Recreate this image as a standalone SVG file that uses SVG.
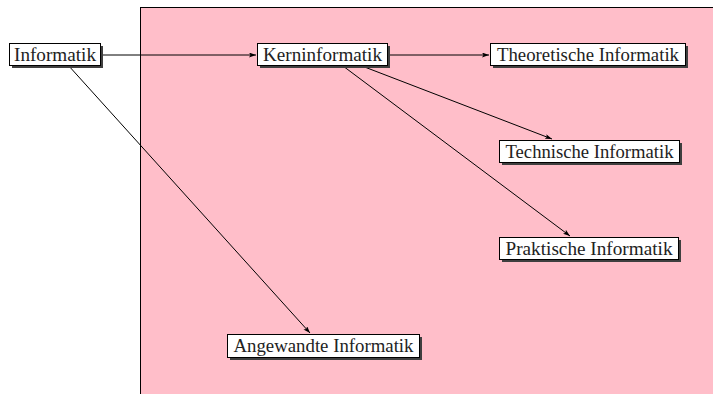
<svg xmlns="http://www.w3.org/2000/svg" width="713" height="394" viewBox="0 0 713 394">
<style>
.shadow{fill:#3f3f3f}
.box{fill:#fff;stroke:#000;stroke-width:1}
.lbl{font-family:"Liberation Serif","DejaVu Serif",serif;font-size:18px;fill:#222;text-anchor:middle}
.edge{stroke:#000;stroke-width:1;fill:none;marker-end:url(#arr)}
</style>
<defs>
<marker id="arr" viewBox="0 0 7 5" refX="7" refY="2.5" markerWidth="7" markerHeight="5" markerUnits="userSpaceOnUse" orient="auto">
<path d="M0,0 L7,2.5 L0,5 L1.5,2.5 Z" fill="#000"/>
</marker>
</defs>
<rect width="713" height="394" fill="#fff"/>
<rect x="140.5" y="7.5" width="580" height="400" fill="#ffbec9" stroke="#000" stroke-width="1"/>
<g id="connectors">
<line class="edge" x1="101" y1="55" x2="256" y2="55"/>
<line class="edge" x1="68" y1="65" x2="310" y2="333"/>
<line class="edge" x1="388" y1="55" x2="489" y2="55"/>
<line class="edge" x1="362" y1="66" x2="552" y2="139"/>
<line class="edge" x1="343" y1="66" x2="570" y2="236"/>
</g>
<g id="informatik">
<rect class="shadow" x="12" y="46" width="91" height="22"/>
<rect class="box" x="9.5" y="43.5" width="91" height="22"/>
<text class="lbl" x="55" y="60.5" textLength="82" lengthAdjust="spacingAndGlyphs">Informatik</text>
</g>
<g id="kerninformatik">
<rect class="shadow" x="260" y="46" width="130" height="22"/>
<rect class="box" x="257.5" y="43.5" width="130" height="22"/>
<text class="lbl" x="322.5" y="60.5" textLength="119" lengthAdjust="spacingAndGlyphs">Kerninformatik</text>
</g>
<g id="theoretische">
<rect class="shadow" x="493" y="46" width="195" height="22"/>
<rect class="box" x="490.5" y="43.5" width="195" height="22"/>
<text class="lbl" x="588" y="60.5" textLength="182" lengthAdjust="spacingAndGlyphs">Theoretische Informatik</text>
</g>
<g id="technische">
<rect class="shadow" x="502" y="143" width="180" height="22"/>
<rect class="box" x="499.5" y="140.5" width="180" height="22"/>
<text class="lbl" x="589.5" y="157.5" textLength="168" lengthAdjust="spacingAndGlyphs">Technische Informatik</text>
</g>
<g id="praktische">
<rect class="shadow" x="502" y="240" width="179" height="22"/>
<rect class="box" x="499.5" y="237.5" width="179" height="22"/>
<text class="lbl" x="589" y="254.5" textLength="167" lengthAdjust="spacingAndGlyphs">Praktische Informatik</text>
</g>
<g id="angewandte">
<rect class="shadow" x="230" y="337" width="192" height="23"/>
<rect class="box" x="227.5" y="334.5" width="192" height="23"/>
<text class="lbl" x="323.5" y="351.5" textLength="180" lengthAdjust="spacingAndGlyphs">Angewandte Informatik</text>
</g>
</svg>
